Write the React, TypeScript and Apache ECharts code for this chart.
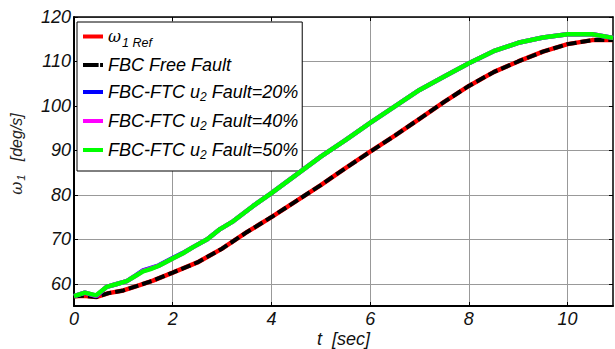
import React, { useEffect, useRef } from "react";
import * as echarts from "echarts";

// Time samples (s) for the reference / fault-free curves
const timeRef = [0, 0.2, 0.45, 0.7, 1.0, 1.3, 1.6, 2.0, 2.5, 3.0, 3.5, 4.0, 4.5, 5.0, 5.5, 6.0, 6.5, 7.0, 7.5, 8.0, 8.5, 9.0, 9.5, 10.0, 10.5, 10.92];
const omegaRef = [57.2, 57.3, 57.0, 57.9, 58.5, 59.6, 60.7, 62.5, 64.8, 67.9, 71.6, 75.0, 78.6, 82.2, 86.0, 89.7, 93.3, 97.1, 100.9, 104.5, 107.6, 110.0, 112.2, 113.9, 114.8, 114.8];
const omegaFreeFault = [57.2, 57.3, 57.0, 57.9, 58.5, 59.6, 60.7, 62.5, 64.8, 67.9, 71.6, 75.0, 78.6, 82.2, 86.0, 89.7, 93.3, 97.1, 100.9, 104.5, 107.6, 110.0, 112.2, 113.9, 114.8, 114.8];

// Time samples (s) for the fault-tolerant curves
const timeFtc = [0, 0.22, 0.45, 0.66, 0.85, 1.07, 1.25, 1.4, 1.55, 1.71, 2.0, 2.2, 2.42, 2.7, 2.96, 3.23, 3.63, 4.0, 4.5, 5.0, 5.5, 6.0, 6.5, 7.0, 7.5, 8.0, 8.5, 9.0, 9.5, 10.0, 10.5, 10.92];
const omegaFault20 = [57.2, 58.0, 57.2, 59.3, 59.9, 60.6, 61.9, 63.0, 63.5, 64.1, 65.8, 66.9, 68.3, 70.0, 72.3, 74.1, 77.5, 80.4, 84.5, 88.6, 92.3, 96.2, 99.9, 103.6, 106.6, 109.6, 112.3, 114.2, 115.4, 116.1, 116.1, 115.3];
const omegaFault40 = [57.2, 58.0, 57.3, 59.3, 59.9, 60.6, 61.8, 62.9, 63.4, 64.0, 65.7, 66.8, 68.3, 70.0, 72.3, 74.1, 77.5, 80.4, 84.5, 88.6, 92.3, 96.2, 99.9, 103.6, 106.6, 109.6, 112.3, 114.2, 115.4, 116.1, 116.1, 115.3];
const omegaFault50 = [57.2, 58.0, 57.4, 59.3, 59.9, 60.6, 61.8, 62.8, 63.3, 64.0, 65.7, 66.8, 68.3, 70.0, 72.3, 74.1, 77.5, 80.4, 84.5, 88.6, 92.3, 96.2, 99.9, 103.6, 106.6, 109.6, 112.3, 114.2, 115.4, 116.1, 116.1, 115.3];

const xTicks = [0, 2, 4, 6, 8, 10];
const yTicks = [60, 70, 80, 90, 100, 110, 120];

const seriesNames = [
  "ω1 Ref",
  "FBC Free Fault",
  "FBC-FTC u2 Fault=20%",
  "FBC-FTC u2 Fault=40%",
  "FBC-FTC u2 Fault=50%",
];
const seriesColors = ["#ff0000", "#000000", "#0000ff", "#ff00ff", "#00ff00"];
const legendRich: Record<string, string> = {
  "ω1 Ref": "{w|ω}{sr|1 Ref}",
  "FBC Free Fault": "{m|FBC Free Fault}",
  "FBC-FTC u2 Fault=20%": "{m|FBC-FTC u}{s|2}{m| Fault=20%}",
  "FBC-FTC u2 Fault=40%": "{m|FBC-FTC u}{s|2}{m| Fault=40%}",
  "FBC-FTC u2 Fault=50%": "{m|FBC-FTC u}{s|2}{m| Fault=50%}",
};

const SANS = "Liberation Sans";
const SOLID_ICON = "path://M0,0H20V4H0Z";
const DASHDOT_ICON = "path://M0,0H16V4H0Z M17.5,0H20.5V4H17.5Z";

const pairs = (xs: number[], ys: number[]) => xs.map((x, i) => [x, ys[i]]);

export default function App() {
  const ref = useRef<HTMLDivElement>(null);
  useEffect(() => {
    if (!ref.current) return;
    const chart = echarts.init(ref.current, undefined, { renderer: "svg" });
    const tickLabel = {
      color: "#111",
      fontSize: 18,
      fontStyle: "italic" as const,
      fontFamily: SANS,
    };
    const legendData = seriesNames.map((name, i) => ({
      name,
      icon: i === 1 ? DASHDOT_ICON : SOLID_ICON,
      itemStyle: { color: seriesColors[i] },
    }));
    const mainTok = { fontFamily: SANS, fontStyle: "italic", fontSize: 18, lineHeight: 18, verticalAlign: "top", color: "#000" };
    const subTok = { fontFamily: SANS, fontStyle: "italic", fontSize: 12, lineHeight: 12, color: "#000" };
    chart.setOption({
      animation: false,
      backgroundColor: "#fff",
      grid: { left: 74, right: 2, top: 17, bottom: 43, containLabel: false, outerBoundsMode: "none" },
      xAxis: [
        {
          type: "value",
          min: 0,
          max: 10.92,
          position: "bottom",
          axisLine: { show: true, onZero: false, lineStyle: { color: "#000", width: 2 } },
          axisTick: { show: true, inside: true, length: 4, customValues: xTicks, lineStyle: { color: "#000" } },
          axisLabel: { ...tickLabel, customValues: xTicks, margin: 4 },
          splitLine: { show: true, lineStyle: { color: "#999", width: 1 } },
          name: "t  [sec]",
          nameLocation: "middle",
          nameGap: 24,
          nameMoveOverlap: false,
          nameTextStyle: { ...tickLabel, color: "#111", lineHeight: 18, verticalAlign: "top" },
        },
        {
          type: "value",
          min: 0,
          max: 10.92,
          position: "top",
          axisLine: { show: true, onZero: false, lineStyle: { color: "#000", width: 1.5 } },
          axisTick: { show: true, inside: true, length: 4, customValues: xTicks, lineStyle: { color: "#000" } },
          axisLabel: { show: false },
          splitLine: { show: false },
        },
      ],
      yAxis: [
        {
          type: "value",
          min: 55,
          max: 120,
          position: "left",
          axisLine: { show: true, onZero: false, lineStyle: { color: "#000", width: 2 } },
          axisTick: { show: true, inside: true, length: 4, customValues: yTicks, lineStyle: { color: "#000" } },
          axisLabel: { ...tickLabel, customValues: yTicks, margin: 3 },
          splitLine: { show: true, lineStyle: { color: "#999", width: 1 } },
        },
        {
          type: "value",
          min: 55,
          max: 120,
          position: "right",
          axisLine: { show: true, onZero: false, lineStyle: { color: "#000", width: 1.5 } },
          axisTick: { show: true, inside: true, length: 4, customValues: yTicks, lineStyle: { color: "#000" } },
          axisLabel: { show: false },
          splitLine: { show: false },
        },
      ],
      legend: {
        orient: "vertical",
        left: 77,
        top: 22,
        padding: [2, 4, 10, 6],
        itemGap: 7,
        itemWidth: 20,
        itemHeight: 4,
        backgroundColor: "#fff",
        borderColor: "#000",
        borderWidth: 1,
        data: legendData,
        formatter: (name: string) => legendRich[name] || name,
        textStyle: {
          fontFamily: SANS,
          fontStyle: "italic",
          fontSize: 18,
          color: "#000",
          rich: {
            m: mainTok,
            s: { ...subTok, padding: [10, 0, 0, 0] },
            w: { fontFamily: "DejaVu Serif", fontStyle: "italic", fontSize: 16, lineHeight: 16, verticalAlign: "top", color: "#000" },
            sr: { fontFamily: SANS, fontStyle: "italic", fontSize: 12.5, lineHeight: 13, padding: [12, 0, 0, 1], color: "#000" },
          },
        },
      },
      graphic: [
        {
          type: "text",
          x: 16,
          y: 154,
          rotation: Math.PI / 2,
          style: {
            text: "{w|ω}{s|1}{t|   [deg/s]}",
            align: "center",
            verticalAlign: "middle",
            rich: {
              w: { fontFamily: "DejaVu Serif", fontStyle: "italic", fontSize: 16, lineHeight: 16, verticalAlign: "top", fill: "#222" },
              s: { fontFamily: SANS, fontStyle: "italic", fontSize: 11, lineHeight: 11, padding: [9, 0, 0, 1], fill: "#222" },
              t: { fontFamily: SANS, fontStyle: "italic", fontSize: 16, lineHeight: 16, verticalAlign: "top", fill: "#222" },
            },
          },
        },
      ],
      series: [
        {
          name: seriesNames[0],
          type: "line",
          symbol: "none",
          data: pairs(timeRef, omegaRef),
          lineStyle: { color: seriesColors[0], width: 4.5 },
          itemStyle: { color: seriesColors[0] },
          z: 2,
        },
        {
          name: seriesNames[1],
          type: "line",
          symbol: "none",
          data: pairs(timeRef, omegaFreeFault),
          lineStyle: { color: seriesColors[1], width: 4, type: [10, 4] },
          itemStyle: { color: seriesColors[1] },
          z: 3,
        },
        {
          name: seriesNames[2],
          type: "line",
          symbol: "none",
          data: pairs(timeFtc, omegaFault20),
          lineStyle: { color: seriesColors[2], width: 4.5 },
          itemStyle: { color: seriesColors[2] },
          z: 4,
        },
        {
          name: seriesNames[3],
          type: "line",
          symbol: "none",
          data: pairs(timeFtc, omegaFault40),
          lineStyle: { color: seriesColors[3], width: 4.5 },
          itemStyle: { color: seriesColors[3] },
          z: 5,
        },
        {
          name: seriesNames[4],
          type: "line",
          symbol: "none",
          data: pairs(timeFtc, omegaFault50),
          lineStyle: { color: seriesColors[4], width: 4.5 },
          itemStyle: { color: seriesColors[4] },
          z: 6,
        },
      ],
    });
    return () => chart.dispose();
  }, []);
  return (
    <div
      ref={ref}
      style={{ position: "fixed", left: 0, top: 0, width: 615, height: 349 }}
    />
  );
}
